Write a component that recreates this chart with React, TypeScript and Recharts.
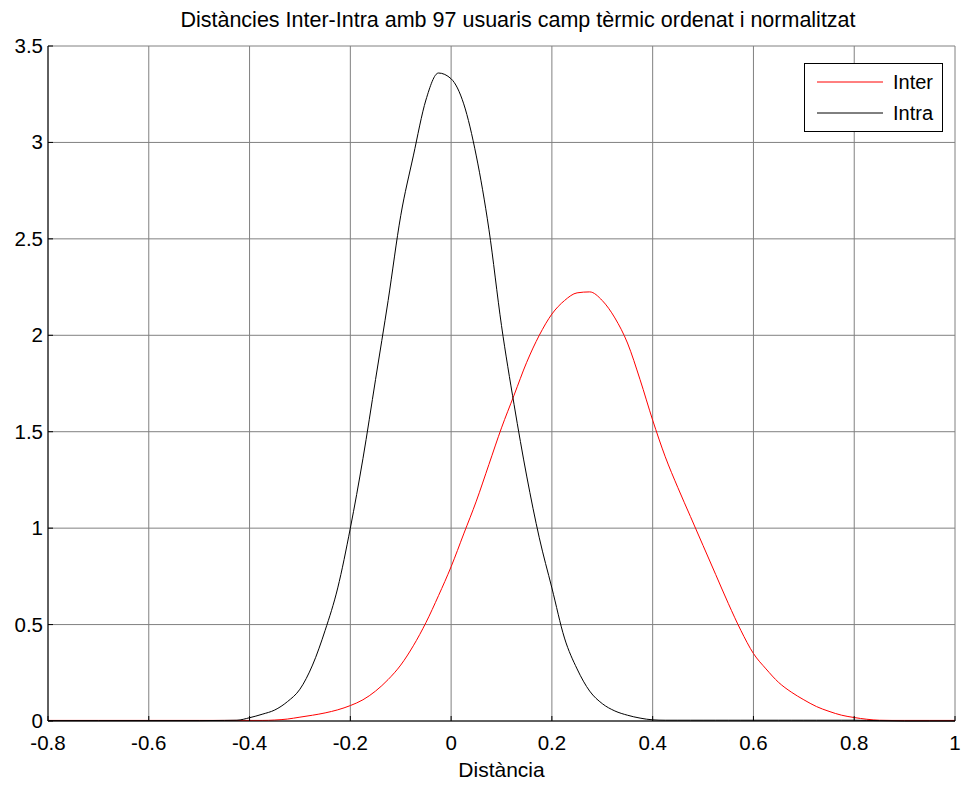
import { CartesianGrid, Line, LineChart, XAxis, YAxis } from 'recharts'

const distances = [
  -0.8, -0.7, -0.6, -0.5, -0.45, -0.425, -0.4, -0.375, -0.35, -0.325, -0.3,
  -0.275, -0.25, -0.225, -0.2, -0.175, -0.15, -0.125, -0.1, -0.075, -0.05,
  -0.025, 0, 0.025, 0.05, 0.075, 0.1, 0.125, 0.15, 0.175, 0.2, 0.225, 0.25,
  0.275, 0.3, 0.325, 0.35, 0.375, 0.4, 0.425, 0.45, 0.475, 0.5, 0.525, 0.55,
  0.575, 0.6, 0.625, 0.65, 0.675, 0.7, 0.725, 0.75, 0.775, 0.8, 0.825, 0.85,
  0.875, 0.9, 0.95, 1,
]
const interValues = [
  0.003, 0.003, 0.003, 0.003, 0.003, 0.003, 0.003, 0.003, 0.005, 0.01, 0.02,
  0.03, 0.042, 0.058, 0.08, 0.11, 0.155, 0.215, 0.29, 0.39, 0.51,
  0.65, 0.8, 0.97, 1.14, 1.33, 1.52, 1.69, 1.86, 2.0, 2.11, 2.18, 2.22,
  2.225, 2.18, 2.09, 1.96, 1.77, 1.56, 1.37, 1.21, 1.06, 0.91, 0.76, 0.61,
  0.47, 0.35, 0.27, 0.2, 0.15, 0.11, 0.075, 0.05, 0.03, 0.018, 0.009, 0.004,
  0.003, 0.003, 0.003, 0.003,
]
const intraValues = [
  0.002, 0.002, 0.002, 0.002, 0.003, 0.004, 0.017, 0.035, 0.057, 0.1, 0.165,
  0.29, 0.47, 0.69, 1.0, 1.36, 1.77, 2.18, 2.62, 2.93, 3.22,
  3.36, 3.33, 3.2, 2.93, 2.55, 2.05, 1.64, 1.27, 0.95, 0.69, 0.43, 0.27,
  0.155, 0.09, 0.052, 0.03, 0.015, 0.006, 0.004, 0.004, 0.004, 0.004, 0.004, 0.004,
  0.004, 0.004, 0.004, 0.004, 0.004, 0.004, 0.004, 0.004, 0.004, 0.004, 0.003, 0.002,
  0.001, 0, 0, 0,
]
const xTicks = [-0.8, -0.6, -0.4, -0.2, 0, 0.2, 0.4, 0.6, 0.8, 1]
const yTicks = [0, 0.5, 1, 1.5, 2, 2.5, 3, 3.5]

const series = [
  { key: 'inter', name: 'Inter', color: '#ff0000' },
  { key: 'intra', name: 'Intra', color: '#000000' },
]

const data = distances.map((x, i) => ({
  x,
  inter: interValues[i],
  intra: intraValues[i],
}))

const W = 964
const H = 785
const PLOT = { left: 48, top: 46, right: 955, bottom: 721 }
const FONT = '"Liberation Sans", Arial, Helvetica, sans-serif'
const TICK_LEN = 5

function BottomTick({ x, payload }: any) {
  return (
    <g>
      <line x1={x} x2={x} y1={PLOT.bottom} y2={PLOT.bottom - TICK_LEN} stroke="#000" />
      <text x={x} y={PLOT.bottom + 29} textAnchor="middle" fontSize={20.5} fontFamily={FONT} fill="#000">
        {String(payload.value)}
      </text>
    </g>
  )
}

function TopTick({ x }: any) {
  return <line x1={x} x2={x} y1={PLOT.top} y2={PLOT.top + TICK_LEN} stroke="#000" />
}

function LeftTick({ y, payload }: any) {
  return (
    <g>
      <line x1={PLOT.left} x2={PLOT.left + TICK_LEN} y1={y} y2={y} stroke="#000" />
      <text x={PLOT.left - 5} y={y + 7} textAnchor="end" fontSize={20.5} fontFamily={FONT} fill="#000">
        {String(payload.value)}
      </text>
    </g>
  )
}

function RightTick({ y }: any) {
  return <line x1={PLOT.right} x2={PLOT.right - TICK_LEN} y1={y} y2={y} stroke="#000" />
}

function ChartLegend() {
  return (
    <div
      style={{
        position: 'absolute',
        left: 804,
        top: 63,
        width: 139,
        height: 69,
        boxSizing: 'border-box',
        border: '1px solid #000',
        background: '#fff',
        fontFamily: FONT,
        fontSize: 20,
      }}
    >
      {series.map((s, i) => (
        <div
          key={s.key}
          style={{
            position: 'absolute',
            left: 12,
            top: 6 + i * 31,
            height: 24,
            display: 'flex',
            alignItems: 'center',
          }}
        >
          <svg width={66} height={2} style={{ display: 'block' }}>
            <line x1={0} x2={66} y1={1} y2={1} stroke={s.color} strokeWidth={1} />
          </svg>
          <span style={{ marginLeft: 10, lineHeight: '24px' }}>{s.name}</span>
        </div>
      ))}
    </div>
  )
}

export default function App() {
  return (
    <div style={{ position: 'absolute', left: 0, top: 0, width: W, height: H, background: '#fff' }}>
      <div
        style={{
          position: 'absolute',
          left: 168,
          width: 700,
          top: 8,
          textAlign: 'center',
          fontFamily: FONT,
          fontSize: 21.5,
          whiteSpace: 'nowrap',
        }}
      >
        Distàncies Inter-Intra amb 97 usuaris camp tèrmic ordenat i normalitzat
      </div>
      <LineChart
        width={W}
        height={H}
        data={data}
        margin={{ top: PLOT.top, right: W - PLOT.right, bottom: 0, left: 0 }}
      >
        <CartesianGrid stroke="#808080" />
        <XAxis
          dataKey="x"
          type="number"
          domain={[-0.8, 1]}
          ticks={xTicks}
          interval={0}
          height={H - PLOT.bottom}
          stroke="#000"
          tickLine={false}
          tick={<BottomTick />}
          label={{ value: 'Distància', position: 'insideBottom', offset: 8, fontSize: 21, fontFamily: FONT, fill: '#000' }}
        />
        <XAxis
          xAxisId="top"
          orientation="top"
          dataKey="x"
          type="number"
          domain={[-0.8, 1]}
          ticks={xTicks}
          interval={0}
          height={0}
          stroke="#000"
          tickLine={false}
          tick={<TopTick />}
        />
        <YAxis
          type="number"
          domain={[0, 3.5]}
          ticks={yTicks}
          interval={0}
          width={PLOT.left}
          stroke="#000"
          tickLine={false}
          tick={<LeftTick />}
        />
        <YAxis
          yAxisId="right"
          orientation="right"
          type="number"
          domain={[0, 3.5]}
          ticks={yTicks}
          interval={0}
          width={0}
          stroke="#000"
          tickLine={false}
          tick={<RightTick />}
        />
        {series.map((s) => (
          <Line
            key={s.key}
            dataKey={s.key}
            name={s.name}
            type="monotone"
            stroke={s.color}
            strokeWidth={1}
            dot={false}
            activeDot={false}
            isAnimationActive={false}
          />
        ))}
      </LineChart>
      <ChartLegend />
    </div>
  )
}
